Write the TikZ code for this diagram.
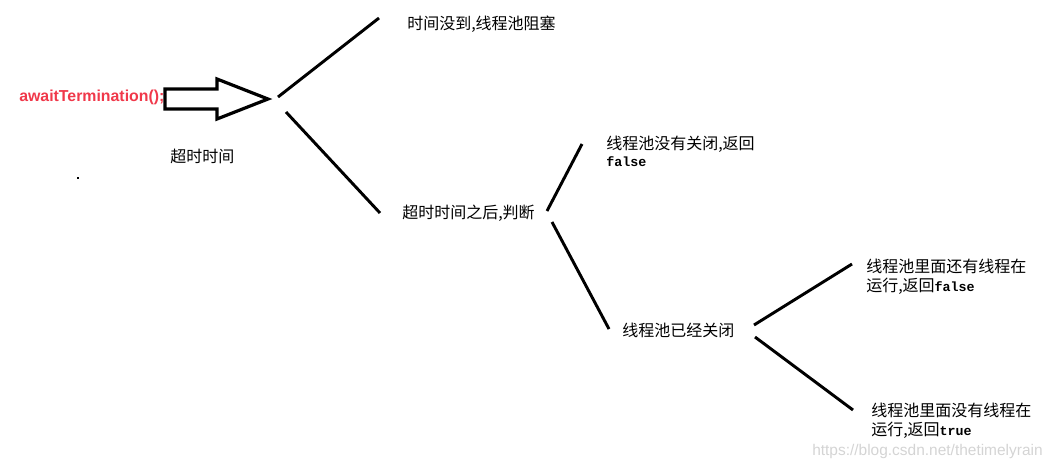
\documentclass[tikz,border=0pt]{standalone}
\usepackage{fontspec}
\setmainfont{Liberation Sans}
\setmonofont{Liberation Mono}
\newfontfamily\cjk{Noto Sans CJK SC}
\usetikzlibrary{positioning}
\definecolor{callred}{RGB}{240,56,74}
\definecolor{markgray}{RGB}{212,212,212}
\newcommand{\codetxt}[1]{{\ttfamily\bfseries\fontsize{10}{10}\selectfont #1}}
\tikzset{
  branch/.style={line width=2.2pt, black},
  label/.style={font=\cjk\fontsize{12}{14}\selectfont, anchor=west, inner sep=0pt, align=left}
}
\begin{document}
\begin{tikzpicture}[x=0.75pt,y=-0.75pt]
\useasboundingbox (0,0) rectangle (1055,469);
% method call and block arrow
\node[font=\bfseries\fontsize{11.9}{13}\selectfont, text=callred, anchor=west, inner sep=0pt] (call) at (19,97) {awaitTermination();};
\draw[line width=2.4pt, fill=white, line join=miter]
  (165,89) -- (217,89) -- (217,79) -- (268,99) -- (217,119) -- (217,109) -- (165,109) -- cycle;
\node[label] (timeout) at (170,156) {超时时间};
\fill (77,177) rectangle (79,179);
% texts
\node[label] (blocked) at (407,24) {时间没到,线程池阻塞};
\node[label] (after) at (402,213) {超时时间之后,判断};
\node[label] (open) at (606,151) {线程池没有关闭,返回\\[-1pt]\codetxt{false}};
\node[label] (closed) at (622,330) {线程池已经关闭};
\node[label] (busy) at (866,276.5) {线程池里面还有线程在\\运行,返回\codetxt{false}};
\node[label] (idle) at (871,421) {线程池里面没有线程在\\运行,返回\codetxt{true}};
% branch ends
\coordinate (a1) at (278,97);  \coordinate (a2) at (379,18);
\coordinate (b1) at (286,112); \coordinate (b2) at (380,213);
\coordinate (c1) at (547,211); \coordinate (c2) at (582,144);
\coordinate (d1) at (552,222); \coordinate (d2) at (609,329);
\coordinate (e1) at (754,325); \coordinate (e2) at (852,264);
\coordinate (f1) at (755,337); \coordinate (f2) at (853,410);
\foreach \s/\t in {a1/a2,b1/b2,c1/c2,d1/d2,e1/e2,f1/f2}
  \draw[branch] (\s) -- (\t);
% watermark
\node[font=\fontsize{11.6}{12}\selectfont, text=markgray, anchor=west, inner sep=0pt] (mark) at (812,451) {https://blog.csdn.net/thetimelyrain};
\end{tikzpicture}
\end{document}
